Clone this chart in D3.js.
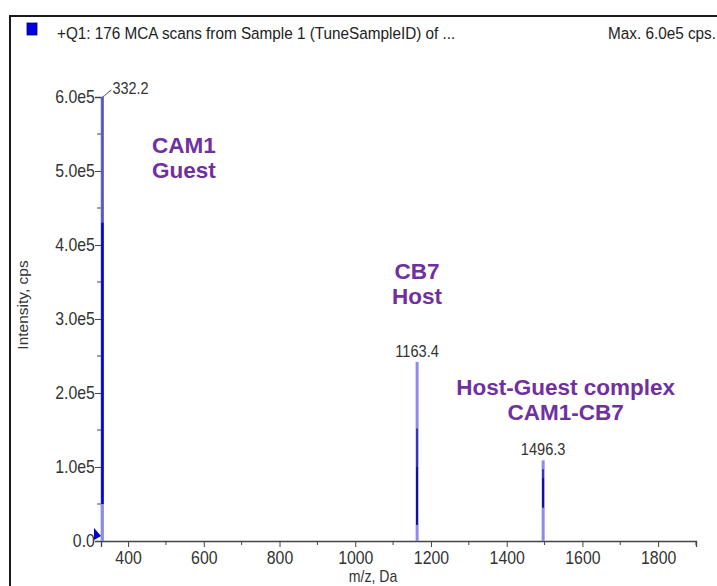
<!DOCTYPE html>
<html>
<head>
<meta charset="utf-8">
<script src="https://cdn.jsdelivr.net/npm/d3@7"></script>
<style>
  html, body { margin: 0; padding: 0; background: #fff; }
  svg { display: block; }
</style>
</head>
<body>
<svg id="chart" width="717" height="586"></svg>
<script>
// Spectrum header
const titleText = "+Q1: 176 MCA scans from Sample 1 (TuneSampleID) of ...";
const maxText = "Max. 6.0e5 cps.";

// Axis ticks
const xTickValues = [400, 600, 800, 1000, 1200, 1400, 1600, 1800];
const xMinorTicks = [500, 700, 900, 1100, 1300, 1500, 1700];
const yTickValues = [0, 1e5, 2e5, 3e5, 4e5, 5e5, 6e5];
const yTickLabels = ["0.0", "1.0e5", "2.0e5", "3.0e5", "4.0e5", "5.0e5", "6.0e5"];
const yMinorTicks = [0.5e5, 1.5e5, 2.5e5, 3.5e5, 4.5e5, 5.5e5];

// Labelled peaks (m/z, apex intensity in cps)
const peakMz = [332.2, 1163.4, 1496.3];
const peakIntensity = [6.0e5, 2.42e5, 1.09e5];

// Overlaid scan traces, as [m/z, low, high] intensity spans
const envelopeTrace = [[332.2, 0, 6.0e5], [1163.4, 0, 2.42e5], [1496.3, 0, 1.09e5]];
const summedTrace = [[332.2, 0.5e5, 6.0e5]];
const scanTraceA = [[332.2, 0.5e5, 4.3e5]];
const scanTraceB = [[1163.2, 0.22e5, 1.52e5], [1495.9, 0.5e5, 0.97e5]];
const scanTraceC = [[1163.1, 0.22e5, 1.0e5], [1496.1, 0.45e5, 0.85e5]];

// Compound annotations
const annotationLines = [["CAM1", "Guest"], ["CB7", "Host"], ["Host-Guest complex", "CAM1-CB7"]];
const annotationMz = [null, 1163.4, 1556];
const annotationTop = [5.3e5, 3.6e5, 2.03e5];

const svg = d3.select("#chart");
const sans = "'Liberation Sans', Arial, sans-serif";
const textGray = "#333";
const squeeze = 0.88;   // condensed instrument-software lettering

// Horizontally condensed text anchored at (x, y)
function condensedText(parent, px, py, str, size, anchor, k = squeeze) {
  return parent.append("g").attr("transform", `translate(${px},${py})`)
    .append("text").attr("transform", `scale(${k},1)`)
    .attr("text-anchor", anchor || "start")
    .attr("font-family", sans).attr("font-size", size).attr("fill", textGray)
    .text(str);
}

// Frame
svg.append("path")
  .attr("d", "M10,586 V16 H717")
  .attr("fill", "none").attr("stroke", "#1a1a1a").attr("stroke-width", 2);

// Header
svg.append("rect").attr("x", 27).attr("y", 23).attr("width", 10).attr("height", 12)
  .attr("fill", "#0000e6").attr("stroke", "#000060").attr("stroke-width", 0.8);
condensedText(svg, 57, 39, titleText, 17, "start", 0.9).attr("fill", "#222");
condensedText(svg, 716, 39, maxText, 17, "end", 0.9).attr("fill", "#222");

const x = d3.scaleLinear().domain([328.5, 1900]).range([101, 696]);
const y = d3.scaleLinear().domain([0, 6e5]).range([541, 97]);

// X axis
const xAxis = svg.append("g").attr("transform", `translate(0,${y(0)})`)
  .call(d3.axisBottom(x).tickValues(xTickValues).tickFormat(d3.format("d")).tickSizeOuter(0).tickSize(6).tickPadding(4));
xAxis.select(".domain").attr("stroke", "#444").attr("stroke-width", 1.3);
xAxis.selectAll(".tick line").attr("stroke", "#444");
xAxis.selectAll(".tick text").attr("font-family", sans).attr("font-size", 18).attr("fill", textGray)
  .attr("transform", `scale(${squeeze},1)`);
xAxis.selectAll(".minor").data(xMinorTicks).join("line").attr("class", "minor")
  .attr("x1", d => x(d)).attr("x2", d => x(d)).attr("y1", 0).attr("y2", 4)
  .attr("stroke", "#444");
xAxis.append("line").attr("x1", 696).attr("x2", 696).attr("y1", 0).attr("y2", 4).attr("stroke", "#444");

// Y axis
const yAxis = svg.append("g").attr("transform", `translate(${x(328.5)},0)`)
  .call(d3.axisLeft(y).tickValues(yTickValues).tickFormat((d, i) => yTickLabels[i]).tickSizeOuter(0).tickSize(6).tickPadding(1));
yAxis.select(".domain").attr("stroke", "#444").attr("stroke-width", 1.3);
yAxis.selectAll(".tick line").attr("stroke", "#444");
yAxis.selectAll(".tick text").attr("font-family", sans).attr("font-size", 18).attr("fill", textGray)
  .attr("transform", `scale(${squeeze},1)`);
yAxis.selectAll(".minor").data(yMinorTicks).join("line").attr("class", "minor")
  .attr("x1", -4).attr("x2", 0).attr("y1", d => y(d)).attr("y2", d => y(d))
  .attr("stroke", "#444");

// Axis titles
svg.append("text").attr("transform", `translate(28,305) rotate(-90)`)
  .attr("text-anchor", "middle").text("Intensity, cps")
  .attr("font-family", sans).attr("font-size", 15.5).attr("fill", textGray);
condensedText(svg, 373, 582, "m/z, Da", 16, "middle");

// Spectrum traces
function drawTrace(data, color, width) {
  svg.append("g").selectAll("line").data(data).join("line")
    .attr("x1", d => x(d[0])).attr("x2", d => x(d[0]))
    .attr("y1", d => y(d[1])).attr("y2", d => y(d[2]))
    .attr("stroke", color).attr("stroke-width", width);
}
drawTrace(envelopeTrace, "#8c8ce8", 3);
drawTrace(summedTrace, "#5656c2", 2.4);
drawTrace(scanTraceA, "#0000dc", 2.4);
drawTrace(scanTraceB, "#2020a8", 1.6);
drawTrace(scanTraceC, "#10109a", 2);

// Start-of-scan marker
svg.append("path")
  .attr("d", `M${x(328.5) - 7},${y(0) - 13} L${x(328.5)},${y(0) - 5} L${x(328.5) - 7},${y(0) - 1} Z`)
  .attr("fill", "#0000c8");

// Peak labels
peakMz.forEach((mz, i) => {
  const px = x(mz), py = y(peakIntensity[i]);
  if (i === 0) {
    svg.append("path")
      .attr("d", `M${px},${py} q2,-1 4,-3 t5,-4`)
      .attr("fill", "none").attr("stroke", "#444").attr("stroke-width", 1);
    condensedText(svg, px + 10, py - 3, mz.toFixed(1), 17, "start", 0.85);
  } else {
    condensedText(svg, px, py - 5, mz.toFixed(1), 17, "middle", 0.86);
  }
});

// Compound annotations
annotationLines.forEach((lines, i) => {
  const t = svg.append("text")
    .attr("font-family", sans).attr("font-weight", "bold")
    .attr("font-size", 22.5).attr("fill", "#7030a0")
    .attr("text-anchor", annotationMz[i] === null ? "start" : "middle");
  const ax = annotationMz[i] === null ? 152 : x(annotationMz[i]);
  lines.forEach((s, k) => {
    t.append("tspan").attr("x", ax).attr("y", y(annotationTop[i]) + 4 + k * 25).text(s);
  });
});
</script>
</body>
</html>
